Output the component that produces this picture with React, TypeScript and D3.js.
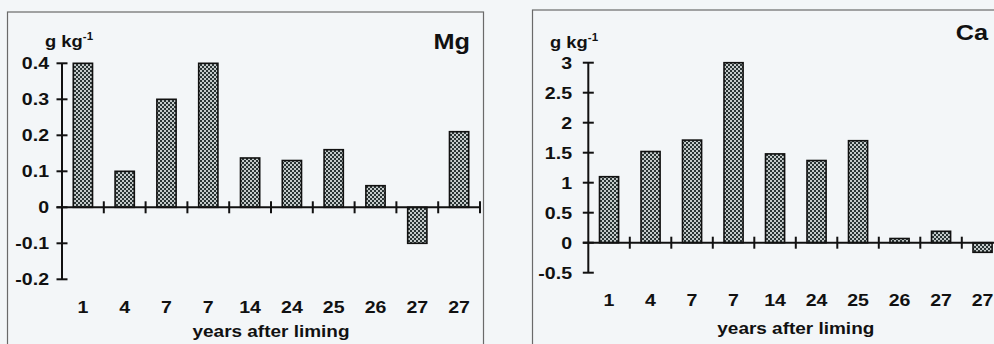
import React from "react";
import * as d3 from "d3";

const years = ["1", "4", "7", "7", "14", "24", "25", "26", "27", "27"];
const mgValues = [0.4, 0.1, 0.3, 0.4, 0.137, 0.13, 0.16, 0.06, -0.1, 0.21];
const caValues = [1.1, 1.52, 1.71, 3.0, 1.48, 1.37, 1.7, 0.07, 0.19, -0.16];
const mgTicks = [-0.2, -0.1, 0, 0.1, 0.2, 0.3, 0.4];
const caTicks = [-0.5, 0, 0.5, 1, 1.5, 2, 2.5, 3];
const xTitle = "years after liming";
const unitLabel = "g kg";

const FONT = "'Liberation Sans', Arial, sans-serif";
const SX = 1.15;

type PanelProps = {
  id: string;
  values: number[];
  ticks: number[];
  title: string;
  box: { x: number; y: number; w: number; h: number };
  axisX: number;
  step: number;
  yTop: number;
  yBottom: number;
  tickLabelRight: number;
  xLabelY: number;
  xTitleY: number;
  titleRight: number;
  titleY: number;
  unitX: number;
  unitY: number;
};

function STxt({ x, y, anchor, size, children }: any) {
  return (
    <text
      transform={`translate(${x},${y}) scale(${SX},1)`}
      textAnchor={anchor}
      fontFamily={FONT}
      fontWeight="bold"
      fontSize={size}
      fill="#111"
    >
      {children}
    </text>
  );
}

function Panel(p: PanelProps) {
  const x = d3
    .scaleBand<string>()
    .domain(years.map((_, i) => String(i)))
    .range([p.axisX, p.axisX + p.step * years.length])
    .paddingInner(0.54)
    .paddingOuter(0.27);
  const y = d3
    .scaleLinear()
    .domain([p.ticks[0], p.ticks[p.ticks.length - 1]])
    .range([p.yBottom, p.yTop]);
  const y0 = y(0);
  const xEnd = p.axisX + p.step * years.length;
  return (
    <g>
      <rect
        x={p.box.x}
        y={p.box.y}
        width={p.box.w}
        height={p.box.h}
        fill="none"
        stroke="#6a6a6a"
        strokeWidth={1.2}
      />
      {p.values.map((v, i) => (
        <rect
          key={i}
          x={x(String(i))}
          y={Math.min(y(v), y0)}
          width={x.bandwidth()}
          height={Math.abs(y(v) - y0)}
          fill="url(#checker)"
          stroke="#111"
          strokeWidth={1.6}
        />
      ))}
      <line x1={p.axisX} x2={p.axisX} y1={y(p.ticks[0])} y2={y(p.ticks[p.ticks.length - 1])} stroke="#111" strokeWidth={2} />
      {p.ticks.map((t) => (
        <g key={t}>
          <line x1={p.axisX - 5.5} x2={p.axisX + 5.5} y1={y(t)} y2={y(t)} stroke="#111" strokeWidth={2} />
          <STxt x={p.tickLabelRight} y={y(t) + 6} anchor="end" size={17}>
            {String(t)}
          </STxt>
        </g>
      ))}
      <line x1={p.axisX - 5.5} x2={xEnd} y1={y0} y2={y0} stroke="#111" strokeWidth={2} />
      {years.map((_, i) => (
        <line
          key={i}
          x1={p.axisX + p.step * (i + 1)}
          x2={p.axisX + p.step * (i + 1)}
          y1={y0 - 6}
          y2={y0 + 6}
          stroke="#111"
          strokeWidth={2}
        />
      ))}
      {years.map((yr, i) => (
        <STxt key={i} x={(x(String(i)) as number) + x.bandwidth() / 2} y={p.xLabelY} anchor="middle" size={17}>
          {yr}
        </STxt>
      ))}
      <STxt x={p.axisX + (p.step * years.length) / 2} y={p.xTitleY} anchor="middle" size={16.5}>
        {xTitle}
      </STxt>
      <STxt x={p.titleRight} y={p.titleY} anchor="end" size={22}>
        {p.title}
      </STxt>
      <STxt x={p.unitX} y={p.unitY} anchor="start" size={16}>
        {unitLabel}
        <tspan fontSize={10} dy={-7}>-1</tspan>
      </STxt>
    </g>
  );
}

export default function App() {
  return (
    <svg
      width={994}
      height={344}
      style={{ position: "absolute", left: 0, top: 0, background: "#f3f6f8" }}
    >
      <defs>
        <pattern id="checker" width={4} height={4} patternUnits="userSpaceOnUse">
          <rect width={4} height={4} fill="#c4caca" />
          <rect x={0} y={0} width={2} height={2} fill="#2a3434" />
          <rect x={2} y={2} width={2} height={2} fill="#2a3434" />
        </pattern>
      </defs>
      <rect width={994} height={344} fill="#f3f6f8" />
      <Panel
        id="mg"
        values={mgValues}
        ticks={mgTicks}
        title="Mg"
        box={{ x: 7.5, y: 12, w: 476, h: 345 }}
        axisX={62}
        step={41.8}
        yTop={63.3}
        yBottom={279.3}
        tickLabelRight={49}
        xLabelY={313}
        xTitleY={337}
        titleRight={470}
        titleY={49}
        unitX={45}
        unitY={47}
      />
      <Panel
        id="ca"
        values={caValues}
        ticks={caTicks}
        title="Ca"
        box={{ x: 532.5, y: 10, w: 480, h: 345 }}
        axisX={588.3}
        step={41.5}
        yTop={62.7}
        yBottom={272.7}
        tickLabelRight={572}
        xLabelY={306}
        xTitleY={334}
        titleRight={988}
        titleY={40}
        unitX={550}
        unitY={48}
      />
    </svg>
  );
}
